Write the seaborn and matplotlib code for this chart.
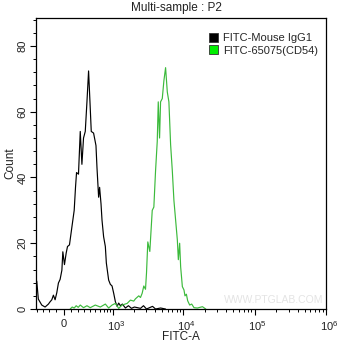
import matplotlib
matplotlib.use("Agg")
import matplotlib.pyplot as plt
import pandas as pd
import seaborn as sns
from matplotlib.patches import Patch
from matplotlib.ticker import FixedLocator, FixedFormatter, NullFormatter
from matplotlib.transforms import ScaledTranslation

# Isotype control histogram (FITC-A channel value, event count)
isotype_fitc = [-411, -381, -321, -266, -214, -189, -164, -141, -117, -93, -71, -48,
                -24, -11, 11, 34, 52, 79, 113, 145, 164, 179, 208, 235, 261, 287,
                316, 345, 374, 405, 424, 470, 520, 542, 579, 602, 636, 661, 702,
                749, 777, 845, 898, 954, 1010, 1072, 1137, 1201, 1273, 1362, 1508,
                1668, 1843, 2036, 2482, 2739, 3022, 3677, 4055, 4772, 5600]
isotype_count = [8.5, 3, 1.2, 0.6, 1.5, 2.2, 2.8, 4.2, 2.8, 5, 7.9, 9,
                 11.8, 17.4, 13.5, 17, 19, 19.5, 25, 30, 37, 41.5, 41, 54, 44, 52,
                 54, 63, 72.4, 61, 54, 53.5, 49.7, 43, 34, 37, 32, 27, 22,
                 19, 14, 8.8, 7.5, 7, 4.8, 2.2, 0.8, 1.8, 1.0, 1.5, 0.3,
                 1.0, 0.2, 0.6, 0.2, 1.0, 0, 0.8, 0, 0.3, 0]

# CD54 stained histogram
cd54_fitc = [89, 117, 145, 174, 204, 235, 287, 345, 405, 505, 619, 749, 845, 954,
             1072, 1201, 1349, 1597, 1783, 1989, 2104, 2346, 2482, 2624, 2766,
             2924, 3022, 3153, 3366, 3641, 3837, 4055, 4285, 4427, 4619, 4772,
             5043, 5313, 5615, 5934, 6250, 6606, 6982, 7354, 7771, 8212, 8485,
             8850, 9142, 9660, 10176, 10511, 11000, 11474, 12243, 13067, 14078,
             15717, 18488, 20576]
cd54_count = [0, 0.6, 0.3, 1, 0.5, 1.2, 0.4, 1, 0.4, 1.2, 0.6, 1.5, 0.3, 1.2,
              1.7, 0.2, 1.2, 1.7, 2.7, 2.4, 3.1, 4, 3.5, 4.8, 7,
              6, 11, 20.4, 17.5, 30, 31, 42, 51, 63, 52, 63,
              64, 69.4, 73.4, 66, 63, 50, 42, 33, 27, 21, 15,
              20, 12.8, 6.8, 5.8, 4, 4.5, 2.5, 1.2, 1.5, 0.4,
              0.3, 0.7, 0]

series_names = ["FITC-Mouse IgG1", "FITC-65075(CD54)"]
line_colors = ["#000000", "#3cba3c"]
swatch_colors = ["#000000", "#00ee00"]

x_major = [0, 1e3, 1e4, 1e5, 1e6]
x_major_labels = ["0", "$10^3$", "$10^4$", "$10^5$", "$10^6$"]
x_minor = ([-400, -300, -200, -100] + [k * 100 for k in range(1, 10)]
           + [k * 1e3 for k in range(2, 10)] + [k * 1e4 for k in range(2, 10)]
           + [k * 1e5 for k in range(2, 10)])
y_major = [0, 20, 40, 60, 80]
y_minor = [v for v in range(0, 89, 4) if v % 20 != 0]

df = pd.concat([
    pd.DataFrame({"FITC-A": isotype_fitc, "Count": isotype_count, "Sample": series_names[0]}),
    pd.DataFrame({"FITC-A": cd54_fitc, "Count": cd54_count, "Sample": series_names[1]}),
], ignore_index=True)

sns.set_style("ticks")
plt.rcParams["font.family"] = ["Liberation Sans", "DejaVu Sans"]
plt.rcParams["mathtext.fontset"] = "custom"
plt.rcParams["mathtext.rm"] = "Liberation Sans"
plt.rcParams["mathtext.it"] = "Liberation Sans:italic"
plt.rcParams["mathtext.bf"] = "Liberation Sans:bold"

fig = plt.figure(figsize=(3.4, 3.43), dpi=100)
ax = fig.add_axes([36 / 340, 1 - 309 / 343, 290 / 340, 291 / 343])

sns.lineplot(data=df, x="FITC-A", y="Count", hue="Sample",
             palette=dict(zip(series_names, line_colors)),
             estimator=None, linewidth=0.85, legend=False, ax=ax)

ax.set_xscale("asinh", linear_width=418)
ax.set_xlim(-425, 1e6)
ax.set_ylim(0, 88.5)

ax.xaxis.set_major_locator(FixedLocator(x_major))
ax.xaxis.set_major_formatter(FixedFormatter(x_major_labels))
ax.xaxis.set_minor_locator(FixedLocator(x_minor))
ax.xaxis.set_minor_formatter(NullFormatter())
ax.yaxis.set_major_locator(FixedLocator(y_major))
ax.yaxis.set_minor_locator(FixedLocator(y_minor))

ax.tick_params(axis="both", which="major", direction="out", length=4.5, width=0.8,
               labelsize=8, color="black", labelcolor="#222222")
ax.tick_params(axis="both", which="minor", direction="out", length=2.5, width=0.7,
               color="black")
ax.tick_params(axis="x", which="major", pad=2.5)
ax.tick_params(axis="y", which="major", pad=1.5)
for lbl in ax.get_yticklabels():
    lbl.set_rotation(90)
    lbl.set_rotation_mode("default")
    lbl.set_horizontalalignment("right")
    lbl.set_verticalalignment("center")

# power labels sit a little right of their tick
shift = ScaledTranslation(3 / 100, 0, fig.dpi_scale_trans)
for lbl in ax.get_xticklabels()[1:]:
    lbl.set_transform(lbl.get_transform() + shift)

for side in ["left", "right", "top", "bottom"]:
    ax.spines[side].set_visible(True)
    ax.spines[side].set_linewidth(0.9)
    ax.spines[side].set_color("black")

ax.set_xlabel("FITC-A", fontsize=8.5, color="#222222", va="center")
ax.xaxis.set_label_coords(0.5, (309 - 337) / 291)
ax.set_ylabel("Count", fontsize=8.5, color="#222222", va="center")
ax.yaxis.set_label_coords((10 - 36) / 290, 0.5)

fig.text(176 / 340, 1 - 8 / 343, "Multi-sample : P2", ha="center", va="center",
         fontsize=8.5, color="#222222")

handles = [Patch(facecolor=c, edgecolor="#333333", linewidth=0.6) for c in swatch_colors]
ax.legend(handles, series_names, loc="upper left",
          bbox_to_anchor=((209 - 36) / 290, 1 - (33 - 18) / 291),
          frameon=False, fontsize=8, handlelength=0.8, handleheight=0.9,
          handletextpad=0.5, labelspacing=0.15, borderpad=0, borderaxespad=0)

ax.text(0.82, 0.032, "WWW.PTGLAB.COM", transform=ax.transAxes, ha="center",
        va="center", fontsize=7.5, color="#e4e4e4")

fig.savefig("out.png", dpi=100)
